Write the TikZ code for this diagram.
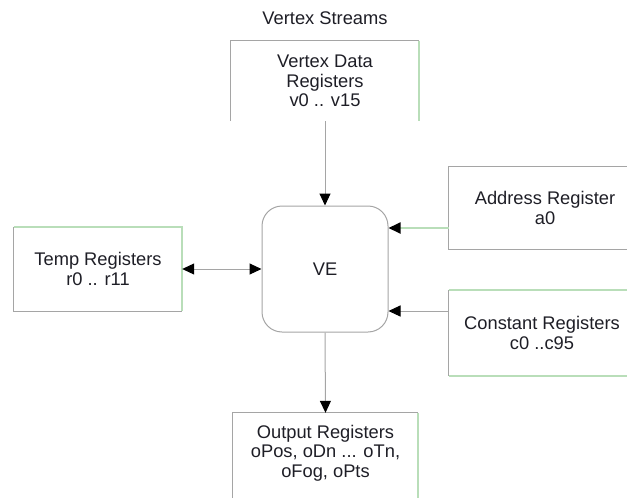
\documentclass[tikz,border=0pt]{standalone}
\usepackage{fontspec}
\setmainfont{Liberation Sans}
\usetikzlibrary{arrows.meta}
\definecolor{edgegray}{RGB}{165,165,165}
\definecolor{edgegreen}{RGB}{185,222,185}
\definecolor{txtgray}{RGB}{30,30,38}
\tikzset{
  lbl/.style={text=txtgray,font=\fontsize{18.3}{19.5}\selectfont,align=center,inner sep=0pt},
  regbox/.style={lbl,rectangle},
  gline/.style={draw=edgegray,line width=1pt},
  grn/.style={draw=edgegreen,line width=1.8pt},
  tip/.tip={Triangle[length=12pt,width=11pt,color=black]},
  link/.style={gline,-tip}
}
\begin{document}
\begin{tikzpicture}[x=1pt,y=-1pt]
  \useasboundingbox (0,0) rectangle (627,498);
  % labels and boxes
  \node[lbl] (streams) at (325,18) {Vertex Streams};
  \node[regbox,minimum width=188,minimum height=80] (vdata) at (325,81) {Vertex Data\\Registers\\v0 .. v15};
  \node[regbox,draw=edgegray,line width=1pt,rounded corners=20pt,minimum width=126,minimum height=126] (ve) at (325,269) {VE};
  \node[regbox,minimum width=168,minimum height=84] (temp) at (98,269) {Temp Registers\\r0 .. r11};
  \node[regbox,minimum width=192,minimum height=82] (addr) at (545,208) {Address Register\\a0};
  \node[regbox,minimum width=186,minimum height=86] (const) at (542,333) {Constant Registers\\c0 ..c95};
  \node[regbox,minimum width=185,minimum height=80] (out) at (325.5,453) {Output Registers\\oPos, oDn ... oTn,\\oFog, oPts};
  % box edges
  \draw[gline] (vdata.south west) -- (vdata.north west) -- (vdata.north east);
  \draw[grn] (vdata.north east) -- (vdata.south east);
  \draw[gline] (temp.north west) -- (temp.south west) -- (temp.south east);
  \draw[grn] (temp.north west) -- (temp.north east) -- (temp.south east);
  \draw[gline] (addr.north east) -- (addr.north west) -- (addr.south west) -- (addr.south east);
  \draw[gline] (const.north west) -- (const.south west);
  \draw[grn] (const.north west) -- (const.north east);
  \draw[grn] (const.south west) -- (const.south east);
  \coordinate (outsw) at ([yshift=-10pt]out.south west);
  \coordinate (outse) at ([yshift=-10pt]out.south east);
  \draw[gline] (outsw) -- (out.north west) -- (out.north east);
  \draw[grn] (out.north east) -- (outse);
  % connectors
  \coordinate (addrin) at ([yshift=-20pt]addr.west);
  \coordinate (constin) at ([yshift=22pt]const.west);
  \draw[link] (vdata.south) -- (ve.north);
  \draw[gline,tip-tip] (temp.east) -- (ve.west);
  \draw[link,draw=edgegreen,line width=1.8pt] (addrin) -- (addrin -| ve.east);
  \draw[link] (constin) -- (constin -| ve.east);
  \draw[link] (ve.south) -- (out.north);
\end{tikzpicture}
\end{document}
